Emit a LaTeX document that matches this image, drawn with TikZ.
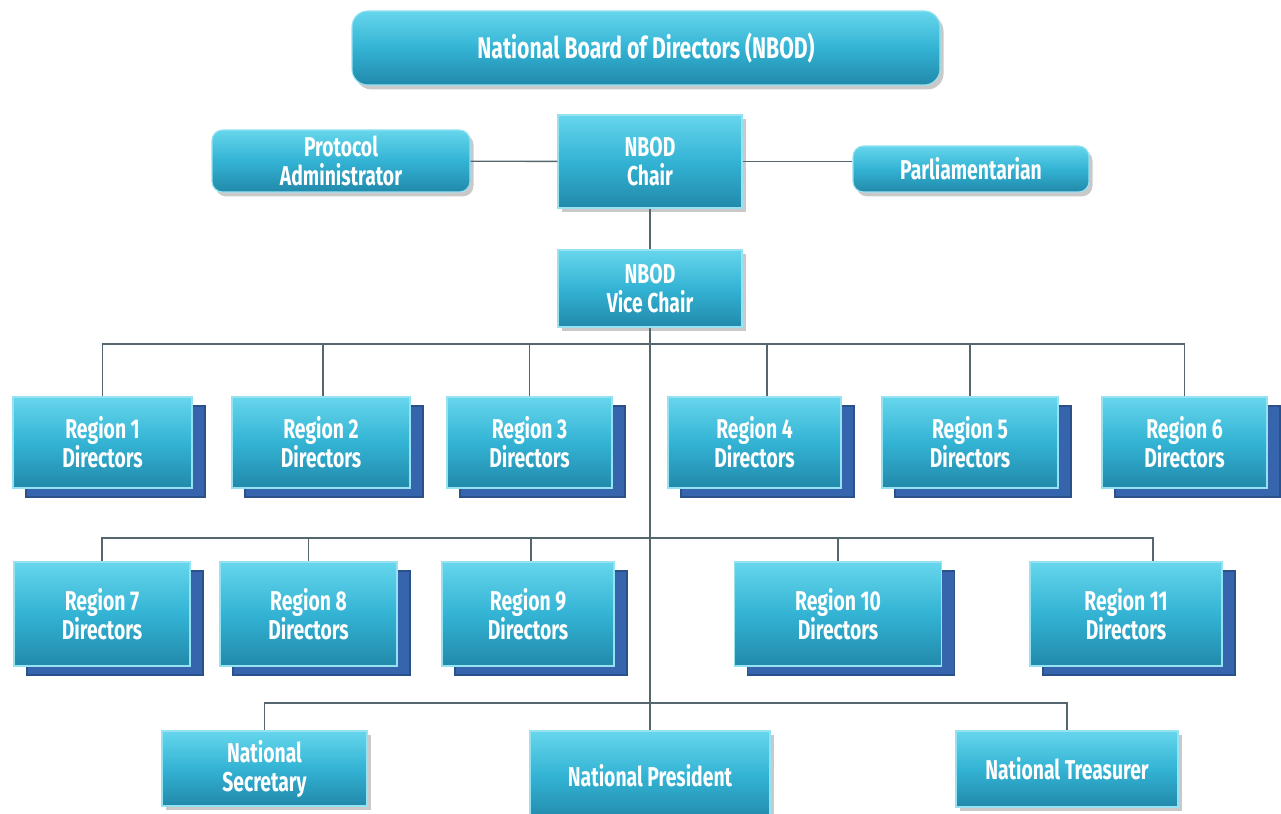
\documentclass[tikz,border=0pt]{standalone}
\usepackage{fontspec}
\setmainfont{Fira Sans}[FakeStretch=0.71]
\usetikzlibrary{shadows,calc}
\definecolor{boxtop}{HTML}{66D6EC}
\definecolor{boxmid}{HTML}{33B3D4}
\definecolor{boxbot}{HTML}{2289AA}
\definecolor{stackblue}{HTML}{3665AE}
\definecolor{linegray}{HTML}{56666F}
\def\u{0.02cm}
\tikzset{
  box/.style 2 args={minimum width=#1*\u, minimum height=#2*\u, inner sep=0pt,
    align=center, text=white, font=\bfseries\fontsize{15.5}{16.5}\selectfont,
    top color=boxtop, bottom color=boxbot, middle color=boxmid, draw=boxtop!70!white,
    line width=0.6pt},
  soft/.style={drop shadow={shadow xshift=2pt, shadow yshift=-2.5pt, opacity=0.35, fill=black!60}},
  stacked/.style={copy shadow={shadow xshift=13*\u, shadow yshift=-9*\u, fill=stackblue, draw=stackblue!80!black}},
  conn/.style={draw=linegray, line width=0.8pt}
}
\begin{document}
\begin{tikzpicture}[x=\u,y=-\u]
\useasboundingbox[fill=white] (0,0) rectangle (1281,814);
\def\linie#1#2{
\draw[conn] #1 -| #2;
}
% top part
\node[box={588}{74}, rounded corners=9pt, soft, font=\bfseries\fontsize{17}{19}\selectfont] (board) at (646,48) {National Board of Directors (NBOD)};
\node[box={258}{62}, rounded corners=6pt, soft] (protocol) at (341,161) {Protocol\\Administrator};
\node[box={184}{93}, soft] (chair) at (650,161.5) {NBOD\\Chair};
\node[box={236}{46}, rounded corners=6pt, soft] (parl) at (971,169) {Parliamentarian};
\node[box={184}{77}, soft] (vice) at (650,288.5) {NBOD\\Vice Chair};
% regions, first row
\node[box={179}{91}, stacked] (r1) at (102.5,442.5) {Region 1\\Directors};
\node[box={178}{91}, stacked] (r2) at (321,442.5) {Region 2\\Directors};
\node[box={165}{91}, stacked] (r3) at (529.5,442.5) {Region 3\\Directors};
\node[box={173}{91}, stacked] (r4) at (754.5,442.5) {Region 4\\Directors};
\node[box={176}{91}, stacked] (r5) at (970,442.5) {Region 5\\Directors};
\node[box={165}{91}, stacked] (r6) at (1184.5,442.5) {Region 6\\Directors};
% regions, second row
\node[box={176}{104}, stacked] (r7) at (102,614) {Region 7\\Directors};
\node[box={177}{104}, stacked] (r8) at (308.5,614) {Region 8\\Directors};
\node[box={172}{104}, stacked] (r9) at (528,614) {Region 9\\Directors};
\node[box={207}{104}, stacked] (r10) at (838,614) {Region 10\\Directors};
\node[box={192}{104}, stacked] (r11) at (1126,614) {Region 11\\Directors};
% officers
\node[box={205}{75}, soft] (secretary) at (264.5,768.5) {National\\Secretary};
\node[box={240}{90}, soft] (president) at (650,776) {National President};
\node[box={222}{76}, soft] (treasurer) at (1067,769) {National Treasurer};
\coordinate (bus1) at (650,344);
\coordinate (bus2) at (650,538);
\coordinate (bus3) at (650,703);
% connectors
\begin{scope}[on background layer/.try]
\draw[conn] (protocol) -- (chair);
\draw[conn] (chair) -- (chair -| parl.west);
\draw[conn] (chair) -- (vice);
\draw[conn] (vice) -- (president);
\linie{(bus1)}{(r1.north)}
\linie{(bus1)}{($(r2.north)+(2,0)$)}
\linie{(bus1)}{(r3.north)}
\linie{(bus1)}{($(r4.north)+(12.5,0)$)}
\linie{(bus1)}{(r5.north)}
\linie{(bus1)}{(r6.north)}
\linie{(bus2)}{(r7.north)}
\linie{(bus2)}{(r8.north)}
\linie{(bus2)}{($(r9.north)+(3,0)$)}
\linie{(bus2)}{(r10.north)}
\linie{(bus2)}{($(r11.north)+(27,0)$)}
\linie{(bus3)}{(secretary.north)}
\linie{(bus3)}{(treasurer.north)}
\end{scope}
\end{tikzpicture}
\end{document}
